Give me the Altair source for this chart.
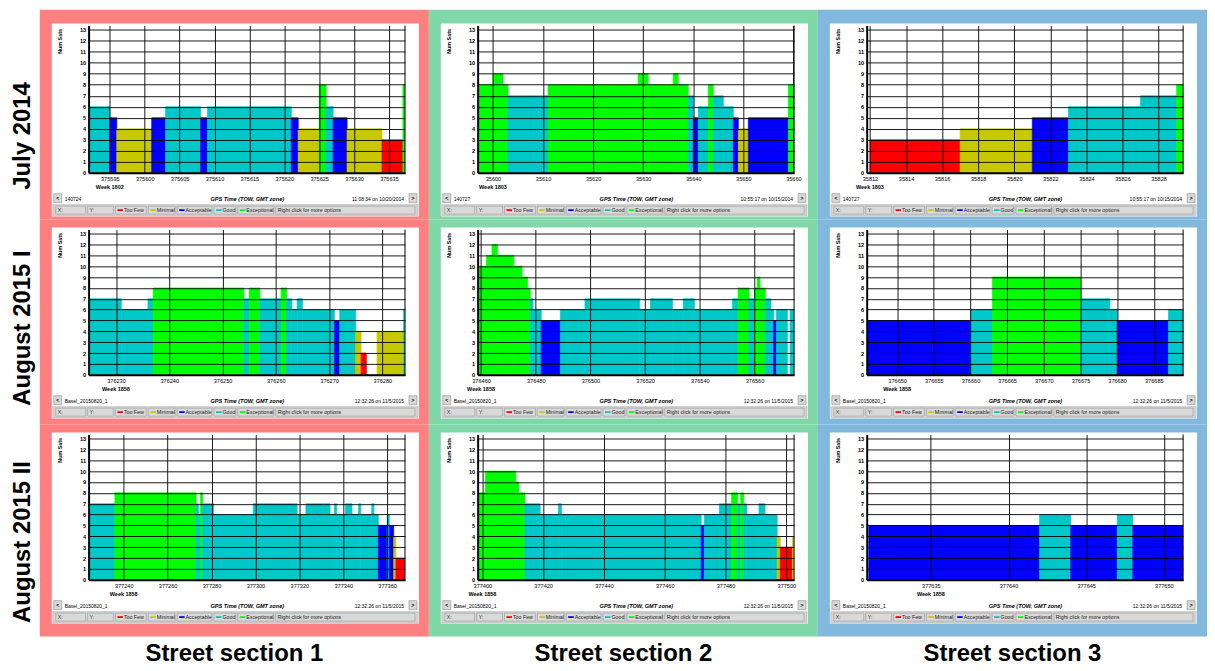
import altair as alt
import pandas as pd

FONT = "Liberation Sans, Arial, sans-serif"

ROW_LABELS = ["July 2014", "August 2015 I", "August 2015 II"]
COL_LABELS = ["Street section 1", "Street section 2", "Street section 3"]
COL_COLORS = ["#FF8080", "#80D8A8", "#80B8DE"]

QUALITY = ["Too Few", "Minimal", "Acceptable", "Good", "Exceptional"]
QUALITY_COLORS = ["#FF0000", "#C8C800", "#0000FF", "#00C8C8", "#00FF00"]

# ---- satellite counts: change times (GPS TOW) and number of satellites ----
t_11 = [375592, 375595, 375596, 375601, 375603, 375608, 375609, 375621, 375622,
        375625, 375626, 375627, 375629, 375634, 375637, 375637.3]
n_11 = [6, 5, 4, 5, 6, 5, 6, 5, 4, 8, 6, 5, 4, 3, 8]

t_12 = [35597, 35600, 35602, 35603, 35611, 35629, 35631, 35636, 35637, 35639, 35640,
        35641, 35643, 35644, 35646, 35648, 35649, 35651, 35659, 35660]
n_12 = [8, 9, 8, 7, 8, 9, 8, 9, 8, 7, 5, 6, 8, 7, 6, 5, 4, 5, 8]

t_13 = [35812, 35817, 35821, 35823, 35827, 35829, 35829.35]
n_13 = [3, 4, 5, 6, 7, 8]

t_21 = [376225, 376231, 376236, 376237, 376254, 376255, 376257, 376261, 376262, 376263,
        376264, 376265, 376271, 376272, 376275, 376276, 376277, 376279, 376284, 376284.25]
n_21 = [7, 6, 7, 8, 7, 8, 7, 8, 7, 6, 7, 6, 5, 6, 4, 2, 0, 4, 6]

t_22 = [376458.8, 376462, 376464, 376466, 376472, 376475, 376477, 376478, 376479, 376482,
        376489, 376498, 376518, 376522, 376530, 376534, 376538, 376552, 376554, 376558,
        376560, 376561, 376562, 376564, 376566, 376567, 376568, 376572, 376573, 376574.45]
n_22 = [10, 11, 12, 11, 10, 9, 8, 7, 6, 5, 6, 7, 6, 7, 6, 7, 6, 7, 8, 7,
        8, 9, 8, 7, 6, 5, 6, 0, 6]

t_23 = [376646, 376660, 376663, 376675, 376679, 376680, 376687, 376689]
n_23 = [5, 6, 9, 7, 6, 5, 6]

t_31 = [377224, 377236, 377273, 377274, 377275, 377276, 377281, 377299, 377319, 377323,
        377334, 377336, 377337, 377341, 377344, 377347, 377348, 377353, 377354, 377356,
        377360, 377361, 377363, 377364, 377368]
n_31 = [7, 8, 7, 6, 8, 7, 6, 7, 6, 7, 6, 7, 6, 7, 6, 7, 6, 7, 6, 5, 6, 5, 4, 2]

t_32 = [377398.7, 377401, 377411, 377412, 377414, 377419, 377425, 377426, 377472, 377473,
        377478, 377482, 377484, 377485, 377486, 377487, 377491, 377493, 377497, 377498,
        377502, 377502.55]
n_32 = [8, 10, 9, 8, 7, 6, 7, 6, 5, 6, 7, 8, 7, 8, 7, 6, 7, 6, 4, 3, 4]

t_33 = [377631, 377642, 377644, 377647, 377648, 377651.24]
n_33 = [5, 6, 5, 6, 5]

TIMES = [t_11, t_12, t_13, t_21, t_22, t_23, t_31, t_32, t_33]
COUNTS = [n_11, n_12, n_13, n_21, n_22, n_23, n_31, n_32, n_33]

X_DOMAINS = [[375591.96, 375637.3], [35596.94, 35660.13], [35811.82, 35829.36],
             [376224.86, 376284.25], [376458.76, 376574.46], [376645.85, 376689.0],
             [377224.0, 377368.15], [377398.45, 377502.55], [377630.87, 377651.24]]

X_TICKS = [
    [375595, 375600, 375605, 375610, 375615, 375620, 375625, 375630, 375635],
    [35600, 35610, 35620, 35630, 35640, 35650, 35660],
    [35812, 35814, 35816, 35818, 35820, 35822, 35824, 35826, 35828],
    [376230, 376240, 376250, 376260, 376270, 376280],
    [376460, 376480, 376500, 376520, 376540, 376560],
    [376650, 376655, 376660, 376665, 376670, 376675, 376680, 376685],
    [377240, 377260, 377280, 377300, 377320, 377340, 377360],
    [377400, 377420, 377440, 377460, 377480, 377500],
    [377635, 377640, 377645, 377650],
]
Y_TICKS = list(range(14))

WEEKS = ["Week 1802", "Week 1803", "Week 1803"] + ["Week 1858"] * 6
FILES = ["140724", "140727", "140727"] + ["Basel_20150820_1"] * 6
STAMPS = ["11:08:34 on 10/20/2014", "10:55:17 on 10/15/2014", "10:55:17 on 10/15/2014"] + \
         ["12:32:26 on 11/5/2015"] * 6

LEGEND_TEXT = ["Too Few", "Minimal", "Acceptable", "Good", "Exceptional"]

# ---- layout (pixels) ----
PW = 318
PH = [148, 146, 146]
PT = [16, 10, 10]
PB = [47, 50, 57]
ROW_LABEL_Y = [111, 99, 108]
L, R = 49, 24
LEFT_STRIP = 32
BOTTOM_STRIP = 25
BOX_X = [(-33, -3), (-1, 25), (27, 58), (60, 87), (89, 124), (126, 148), (150, 186), (188, PW + 10)]

ONE = pd.DataFrame({"k": [0]})


def quality(v):
    if v <= 3:
        return "Too Few"
    if v == 4:
        return "Minimal"
    if v == 5:
        return "Acceptable"
    if v <= 7:
        return "Good"
    return "Exceptional"


def rect(x0, x1, y0, y1, **kw):
    return alt.Chart(ONE).mark_rect(**kw).encode(
        x=alt.value(x0), x2=alt.value(x1), y=alt.value(y0), y2=alt.value(y1))


def text(x, y, s, **kw):
    opts = dict(font=FONT, fontSize=5.5, color="#000000", baseline="middle")
    opts.update(kw)
    return alt.Chart(ONE).mark_text(text=s, **opts).encode(x=alt.value(x), y=alt.value(y))


def panel(r, c):
    k = 3 * r + c
    W, H, T, B = PW, PH[r], PT[r], PB[r]
    t, n = TIMES[k], COUNTS[k]
    df = pd.DataFrame({"start": t[:-1], "end": t[1:], "n": n})
    df = df[df["n"] > 0].copy()
    df["zero"] = 0
    df["quality"] = [quality(v) for v in df["n"]]

    layers = []
    bottom_extra = BOTTOM_STRIP if r == 2 else 0
    if c == 0:
        layers.append(rect(-L - LEFT_STRIP, -L, -T, H + B + bottom_extra, color="white"))
    if r == 2:
        layers.append(rect(-L, W + R, H + B, H + B + BOTTOM_STRIP, color="white"))
    layers.append(rect(-L, W + R, -T, H + B, color=COL_COLORS[c]))
    # application window
    layers.append(rect(-37, W + 14, -2, H + 44, color="white"))
    # legend / status bar
    layers.append(rect(-36, W + 13, H + 32, H + 43, fill="#D4D4D4", stroke="#B0B0B0", strokeWidth=0.6))
    for x0, x1 in BOX_X:
        layers.append(rect(x0, x1, H + 33.5, H + 41.5, fill="#D9D9D9", stroke="#9A9A9A", strokeWidth=0.6))
    # scroll buttons
    layers.append(rect(-35, -27, H + 21, H + 30, fill="#D8D8D8", stroke="#8A8A8A", strokeWidth=0.6))
    layers.append(rect(W + 4, W + 12, H + 21, H + 30, fill="#D8D8D8", stroke="#8A8A8A", strokeWidth=0.6))

    bars = alt.Chart(df).mark_rect(clip=True, strokeWidth=0.7).encode(
        x=alt.X("start:Q",
                scale=alt.Scale(domain=X_DOMAINS[k], nice=False, zero=False),
                axis=alt.Axis(values=X_TICKS[k], tickCount=40, format="d", title="GPS Time (TOW, GMT zone)",
                              grid=True, gridColor="#000000", gridWidth=0.9,
                              domainColor="#000000", domainWidth=2, ticks=False,
                              labelFont=FONT, labelFontSize=5.6, labelColor="#000000",
                              labelPadding=4, labelFlush=False, labelOverlap=False,
                              titleFont=FONT, titleFontSize=5.6, titleFontWeight="bold",
                              titleFontStyle="italic", titleColor="#000000",
                              titleX=W / 2, titleY=26, titleBaseline="middle", titleAlign="center",
                              zindex=1)),
        x2="end:Q",
        y=alt.Y("n:Q",
                scale=alt.Scale(domain=[0, 13.37], nice=False),
                axis=alt.Axis(values=Y_TICKS, tickCount=40, format="d", title="Num Sats",
                              grid=True, gridColor="#000000", gridWidth=0.9,
                              domainColor="#000000", domainWidth=2, ticks=False,
                              labelFont=FONT, labelFontSize=5.6, labelFontWeight="bold",
                              labelColor="#000000", labelPadding=3, labelOverlap=False,
                              titleFont=FONT, titleFontSize=5.4, titleFontWeight="bold",
                              titleColor="#000000", titleAngle=270, titleX=-29.5, titleY=3,
                              titleAlign="right", titleBaseline="middle", zindex=1)),
        y2="zero:Q",
        color=alt.Color("quality:N", scale=alt.Scale(domain=QUALITY, range=QUALITY_COLORS), legend=None),
        stroke=alt.Stroke("quality:N", scale=alt.Scale(domain=QUALITY, range=QUALITY_COLORS), legend=None),
    )
    layers.append(bars)
    layers.append(alt.Chart(ONE).mark_rule(color="#000000", strokeWidth=1).encode(
        x=alt.value(W), y=alt.value(0), y2=alt.value(H)))

    # texts
    layers.append(alt.Chart(ONE).mark_text(text=WEEKS[k], font=FONT, fontSize=5.5, fontWeight="bold",
                                           color="#000000", baseline="middle").encode(
        x=alt.datum(X_TICKS[k][0]), y=alt.value(H + 14)))
    layers.append(text(-31, H + 25.5, "<", fontSize=5, fontWeight="bold"))
    layers.append(text(W + 8, H + 25.5, ">", fontSize=5, fontWeight="bold"))
    layers.append(text(-24, H + 26, FILES[k], align="left", fontSize=5))
    layers.append(text(W - 1, H + 26, STAMPS[k], align="right", fontSize=5))
    layers.append(text(-31, H + 37.5, "X:", align="left", fontSize=5.3, color="#333333"))
    layers.append(text(1, H + 37.5, "Y:", align="left", fontSize=5.3, color="#333333"))
    for i, name in enumerate(LEGEND_TEXT):
        x0 = BOX_X[2 + i][0]
        layers.append(alt.Chart(ONE).mark_rule(color=QUALITY_COLORS[i], strokeWidth=1.8).encode(
            x=alt.value(x0 + 2), x2=alt.value(x0 + 7.5), y=alt.value(H + 37.5)))
        layers.append(text(x0 + 8.5, H + 37.5, name, align="left", fontSize=5.3, color="#222222"))
    layers.append(text(190, H + 37.5, "Right click for more options", align="left", fontSize=5.3,
                       color="#222222"))

    if c == 0:
        layers.append(text(-L - 17, ROW_LABEL_Y[r], ROW_LABELS[r], angle=270, align="center",
                           fontSize=24, fontWeight="bold"))
    if r == 2:
        layers.append(text((W + R - L) / 2, H + B + 24.5, COL_LABELS[c], align="center",
                           baseline="alphabetic", fontSize=24, fontWeight="bold"))

    return alt.layer(*layers).properties(width=W, height=H)


rows = [alt.hconcat(*[panel(r, c) for c in range(3)], spacing=0) for r in range(3)]
chart = alt.vconcat(*rows, spacing=0).configure_view(stroke=None).configure_concat(spacing=0).properties(
    padding=0, background="white")

chart.save("out.html", embed_options={"renderer": "svg", "actions": False})
